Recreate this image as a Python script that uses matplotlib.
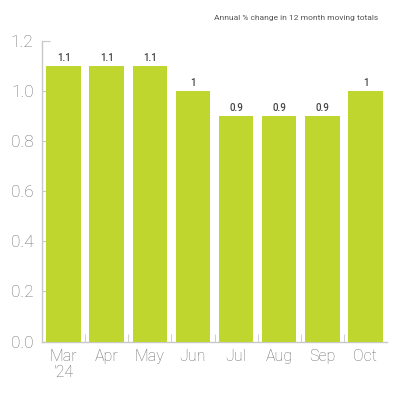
import matplotlib
matplotlib.use("Agg")
import matplotlib.pyplot as plt

months = ["Mar\n'24", "Apr", "May", "Jun", "Jul", "Aug", "Sep", "Oct"]
values = [1.1, 1.1, 1.1, 1.0, 0.9, 0.9, 0.9, 1.0]
labels = ["1.1", "1.1", "1.1", "1", "0.9", "0.9", "0.9", "1"]
y_ticks = [0.0, 0.2, 0.4, 0.6, 0.8, 1.0, 1.2]

bar_color = "#bfd62f"
axis_color = "#c8c8c8"
text_color = "#6e6e6e"

plt.rcParams["font.family"] = ["Roboto", "Liberation Sans", "DejaVu Sans"]

fig = plt.figure(figsize=(4, 4), dpi=100)
ax = fig.add_axes([0.105, 0.146, 0.8625, 0.752])

x = range(len(months))
ax.bar(x, values, width=0.8, color=bar_color, zorder=3)

for xi, v, lab in zip(x, values, labels):
    ax.text(xi, v + 0.012, lab, ha="center", va="bottom", fontsize=7,
            fontweight="medium", color="#444444", zorder=4)

ax.set_xlim(-0.5, len(months) - 0.5)
ax.set_ylim(0, 1.2)
ax.set_yticks(y_ticks)
ax.set_yticklabels([f"{t:.1f}" for t in y_ticks])
ax.set_xticks(list(x))
ax.set_xticklabels(months)
ax.set_xticks([i + 0.5 for i in range(len(months) - 1)], minor=True)

for side in ["top", "right"]:
    ax.spines[side].set_visible(False)
for side in ["left", "bottom"]:
    ax.spines[side].set_color(axis_color)
    ax.spines[side].set_linewidth(1.0)

ax.tick_params(axis="y", direction="in", length=6, color=axis_color,
               labelsize=12.5, labelcolor=text_color, pad=6)
ax.tick_params(axis="x", which="major", length=0, labelsize=11.5,
               labelcolor=text_color, pad=5)
ax.tick_params(axis="x", which="minor", direction="in", length=6,
               color=axis_color)
for lab in ax.get_xticklabels() + ax.get_yticklabels():
    lab.set_fontweight("light")
    lab.set_linespacing(1.15)

fig.text(0.945, 0.955, "Annual % change in 12 month moving totals",
         ha="right", va="center", fontsize=6, color="#555555")

fig.savefig("out.png", dpi=100, facecolor="white")
